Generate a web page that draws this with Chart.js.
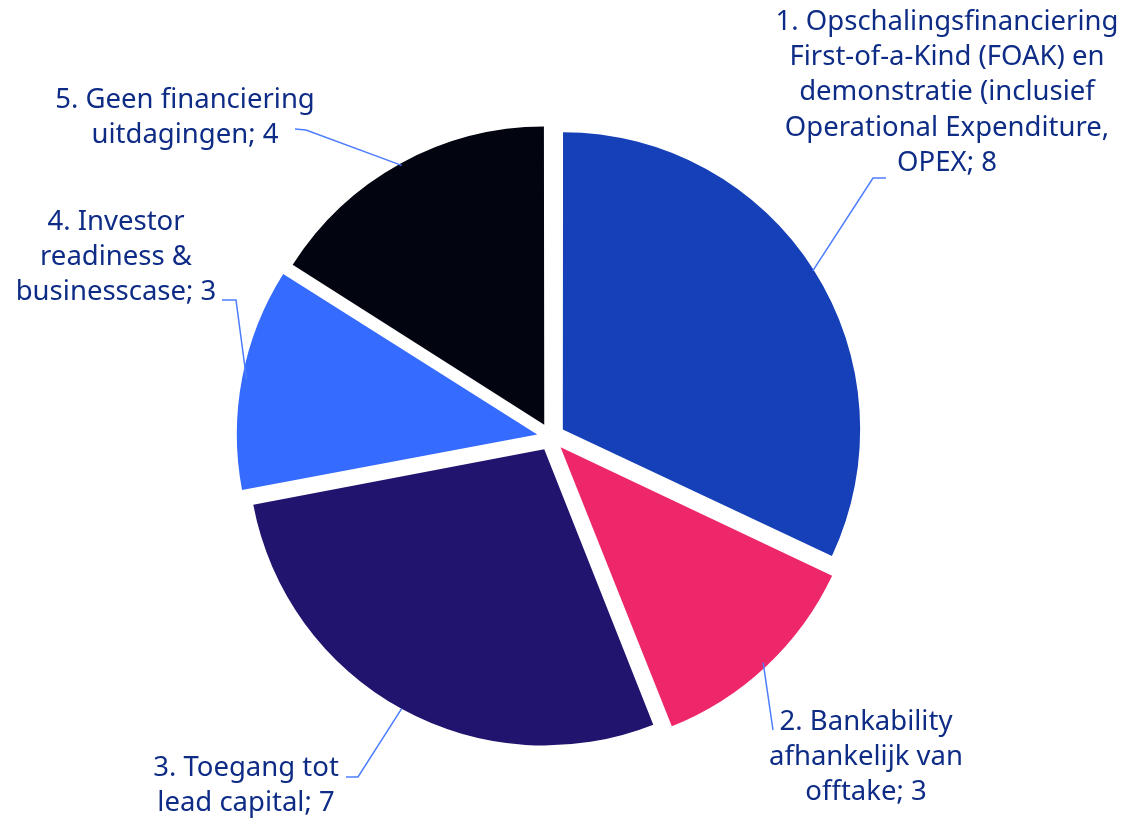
<!DOCTYPE html>
<html>
<head>
<meta charset="utf-8">
<script src="https://cdn.jsdelivr.net/npm/chart.js@4/dist/chart.umd.min.js"></script>
<style>
  html, body { margin: 0; padding: 0; background: #fff; }
  #wrap { width: 1124px; height: 818px; }
</style>
</head>
<body>
<div id="wrap"><canvas id="pie" width="1124" height="818"></canvas></div>
<script>
// categories, wrapped the way the labels are printed
const categories = [
  ['1. Opschalingsfinanciering', 'First-of-a-Kind (FOAK) en', 'demonstratie (inclusief', 'Operational Expenditure,', 'OPEX'],
  ['2. Bankability', 'afhankelijk van', 'offtake'],
  ['3. Toegang tot', 'lead capital'],
  ['4. Investor', 'readiness &', 'businesscase'],
  ['5. Geen financiering', 'uitdagingen']
];
const counts = [8, 3, 7, 3, 4];
const sliceColors = ['#1540b8', '#ee266a', '#21146e', '#356bff', '#02050f'];

// where each label sits and where its leader line bends
const labelLayout = [
  { x: 947, y: 22, elbow: [873, 178], end: [886, 178] },
  { x: 866, y: 722, elbow: [773, 730], end: [773, 730] },
  { x: 246, y: 768, elbow: [358, 777], end: [346, 777] },
  { x: 116, y: 222, elbow: [236, 300], end: [222, 300] },
  { x: 185, y: 100, elbow: [306, 130], end: [295, 129] }
];

const ARC_OFFSET = 56; // chart.js translates arcs by offset / 4

const outsideLabels = {
  id: 'outsideLabels',
  afterDraw(chart) {
    const ctx = chart.ctx;
    const meta = chart.getDatasetMeta(0);
    ctx.save();
    meta.data.forEach((arc, i) => {
      const p = arc.getProps(['x', 'y', 'startAngle', 'endAngle', 'outerRadius'], true);
      const mid = (p.startAngle + p.endAngle) / 2;
      const r = p.outerRadius + ARC_OFFSET / 4;
      const ax = p.x + Math.cos(mid) * r;
      const ay = p.y + Math.sin(mid) * r;
      const lay = labelLayout[i];

      ctx.strokeStyle = '#4d7dff';
      ctx.lineWidth = 1.5;
      ctx.beginPath();
      ctx.moveTo(ax, ay);
      ctx.lineTo(lay.elbow[0], lay.elbow[1]);
      ctx.lineTo(lay.end[0], lay.end[1]);
      ctx.stroke();

      const lines = categories[i].slice();
      lines[lines.length - 1] += '; ' + counts[i];
      ctx.fillStyle = '#0e2c86';
      ctx.font = '27.5px "Noto Sans"';
      ctx.textAlign = 'center';
      ctx.textBaseline = 'middle';
      lines.forEach((t, j) => ctx.fillText(t, lay.x, lay.y + j * 35.3));
    });
    ctx.restore();
  }
};

new Chart(document.getElementById('pie'), {
  type: 'pie',
  data: {
    labels: categories.map(c => c.join(' ')),
    datasets: [{
      data: counts,
      backgroundColor: sliceColors,
      borderWidth: 0,
      offset: ARC_OFFSET,
      hoverOffset: 0
    }]
  },
  options: {
    responsive: false,
    animation: false,
    radius: 296,
    layout: { padding: { top: 100, bottom: 44, left: 100, right: 122 } },
    plugins: {
      legend: { display: false },
      tooltip: { enabled: false }
    }
  },
  plugins: [outsideLabels]
});
</script>
</body>
</html>
